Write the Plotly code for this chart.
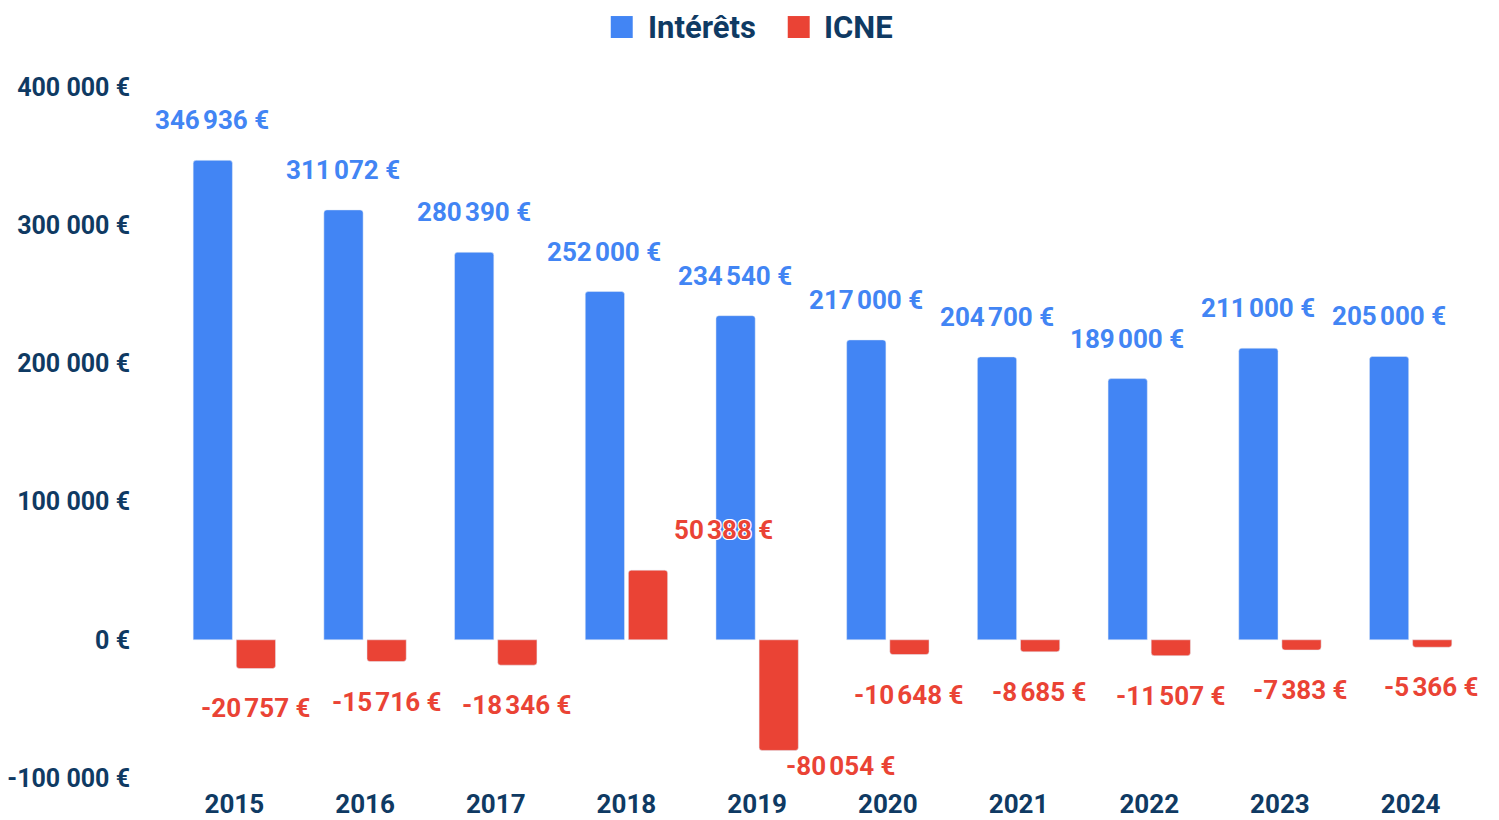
import plotly.graph_objects as go

years = ["2015", "2016", "2017", "2018", "2019", "2020", "2021", "2022", "2023", "2024"]
interets = [346936, 311072, 280390, 252000, 234540, 217000, 204700, 189000, 211000, 205000]
icne = [-20757, -15716, -18346, 50388, -80054, -10648, -8685, -11507, -7383, -5366]
tick_vals = [-100000, 0, 100000, 200000, 300000, 400000]
tick_text = ["-100 000 €", "0 €", "100 000 €", "200 000 €", "300 000 €", "400 000 €"]
series = ["Intérêts", "ICNE"]

BLUE = "#4285F4"
RED = "#EA4335"
NAVY = "#0F3A63"
FONT = "Roboto"
HALO = "-1px -1px 0 white, 1px -1px 0 white, -1px 1px 0 white, 1px 1px 0 white"


def eur(v):
    # narrow no-break space as thousands separator, like the source
    s = f"{abs(v):,}".replace(",", "\u202f")
    return ("-" if v < 0 else "") + s + " €"


fig = go.Figure()
fig.add_trace(go.Bar(x=years, y=interets, name=series[0], marker_color=BLUE,
                     showlegend=False, offsetgroup="a"))
fig.add_trace(go.Bar(x=years, y=icne, name=series[1], marker_color=RED,
                     showlegend=False, offsetgroup="b"))

annotations = []
for i, yr in enumerate(years):
    # category index as x so annotations sit on the category axis
    annotations.append(dict(x=i, y=interets[i], text=eur(interets[i]), showarrow=False,
                            xshift=-22, yshift=40,
                            font=dict(family=FONT, size=26, color=BLUE, weight="bold", shadow=HALO)))
    v = icne[i]
    xs, ys = 21, (40 if v > 0 else -40)
    if v > 0:
        xs = 97  # label pushed right in the source
    if v < -60000:
        xs, ys = 83, -16  # squeezed above the year labels, pushed right
    annotations.append(dict(x=i, y=v, text=eur(v), showarrow=False, xshift=xs, yshift=ys,
                            font=dict(family=FONT, size=26, color=RED, weight="bold", shadow=HALO)))

# hand-made legend at the top (plotly's own legend pushes the margins)
shapes = []
for name, col, x0, tx in [(series[0], BLUE, 0.338, 0.3648), (series[1], RED, 0.4734, 0.4994)]:
    shapes.append(dict(type="rect", xref="paper", yref="paper", x0=x0, x1=x0 + 0.0168,
                       y0=1.0709, y1=1.1027, fillcolor=col, line_width=0))
    annotations.append(dict(xref="paper", yref="paper", x=tx, y=1.0868, xanchor="left",
                            yanchor="middle", text=name, showarrow=False,
                            font=dict(family=FONT, size=31, color=NAVY, weight="bold")))

fig.update_layout(
    width=1499, height=820,
    paper_bgcolor="white", plot_bgcolor="white",
    margin=dict(l=161, r=31, t=79, b=50),
    barmode="group", bargap=0.34, bargroupgap=0.09, barcornerradius=3,
    font=dict(family=FONT, color=NAVY, size=26, weight="bold"),
    showlegend=False,
    annotations=annotations,
    shapes=shapes,
)
fig.update_xaxes(type="category", range=[-0.5, len(years) - 0.5], automargin=False,
                 showgrid=False, showline=False, ticks="", tickangle=0,
                 ticklabelstandoff=8,
                 tickfont=dict(family=FONT, size=26, color=NAVY, weight="bold"))
fig.update_yaxes(range=[-100000, 400000], tickvals=tick_vals, ticktext=tick_text,
                 automargin=False,
                 showgrid=False, zeroline=False, showline=False, ticks="",
                 ticklabelstandoff=38,
                 tickfont=dict(family=FONT, size=25, color=NAVY, weight="bold"))

fig.write_html("out.html")
